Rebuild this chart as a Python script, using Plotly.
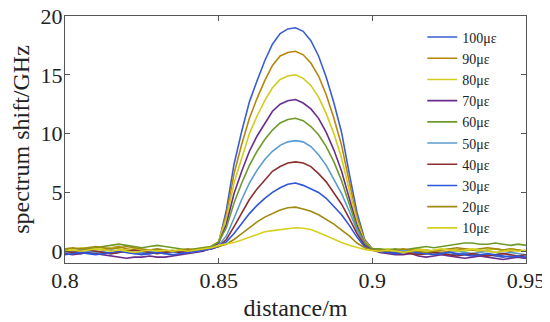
import plotly.graph_objects as go

distance = [0.8000, 0.8025, 0.8050, 0.8075, 0.8100, 0.8125, 0.8150, 0.8175, 0.8200, 0.8225,
            0.8250, 0.8275, 0.8300, 0.8325, 0.8350, 0.8375, 0.8400, 0.8425, 0.8450, 0.8475,
            0.8500, 0.8525, 0.8550, 0.8575, 0.8600, 0.8625, 0.8650, 0.8675, 0.8700, 0.8725,
            0.8750, 0.8775, 0.8800, 0.8825, 0.8850, 0.8875, 0.8900, 0.8925, 0.8950, 0.8975,
            0.9000, 0.9025, 0.9050, 0.9075, 0.9100, 0.9125, 0.9150, 0.9175, 0.9200, 0.9225,
            0.9250, 0.9275, 0.9300, 0.9325, 0.9350, 0.9375, 0.9400, 0.9425, 0.9450, 0.9475,
            0.9500]

s100 = [0.0, -0.1, -0.2, -0.1, 0.0, -0.1, -0.2, -0.1, 0.0, -0.1, -0.2, -0.2, -0.1, -0.1, 0.0, -0.1, 0.0, 0.0, 0.1,
        0.3, 0.7, 3.5, 7.4, 10.2, 12.7, 14.5, 16.2, 17.6, 18.5, 18.9, 19.0, 18.7, 17.9, 16.6, 14.8, 12.6, 10.1, 6.6, 3.3, 1.0, 0.2,
        0.0, -0.1, -0.1, 0.0, -0.1, -0.2, -0.2, -0.1, -0.2, -0.3, -0.3, -0.2, -0.3, -0.4, -0.3, -0.4, -0.5, -0.4, -0.5, -0.6]
s90 = [0.1, 0.2, 0.2, 0.1, 0.2, 0.1, 0.3, 0.4, 0.2, 0.1, 0.0, 0.1, 0.0, -0.1, 0.0, 0.1, 0.0, 0.1, 0.2,
       0.4, 0.8, 3.1, 6.6, 9.1, 11.3, 13.0, 14.5, 15.8, 16.6, 16.9, 17.0, 16.7, 16.0, 14.9, 13.3, 11.3, 9.0, 5.9, 2.9, 0.9, 0.2,
       0.1, 0.0, 0.1, 0.0, -0.1, 0.0, 0.1, 0.0, -0.1, 0.0, 0.1, 0.2, 0.1, 0.0, 0.1, 0.2, 0.1, 0.0, 0.1, 0.0]
s80 = [0.2, 0.1, 0.3, 0.2, 0.1, 0.2, 0.3, 0.2, 0.1, 0.2, 0.1, 0.0, 0.1, 0.0, 0.1, 0.0, 0.1, 0.2, 0.3,
       0.4, 0.8, 2.8, 5.8, 8.0, 10.0, 11.5, 12.8, 13.9, 14.6, 14.9, 15.0, 14.7, 14.1, 13.1, 11.7, 10.0, 7.9, 5.2, 2.6, 0.8, 0.2,
       0.1, 0.2, 0.1, 0.0, 0.1, 0.2, 0.1, 0.0, 0.1, 0.2, 0.1, 0.0, 0.1, 0.0, 0.1, 0.2, 0.1, 0.2, 0.1, 0.0]
s70 = [-0.2, -0.3, -0.2, -0.1, -0.2, -0.3, -0.4, -0.5, -0.6, -0.5, -0.5, -0.4, -0.5, -0.5, -0.4, -0.3, -0.2, -0.1, 0.0,
       0.3, 0.7, 2.3, 4.9, 6.8, 8.5, 9.8, 10.9, 11.9, 12.5, 12.8, 12.9, 12.6, 12.1, 11.3, 10.1, 8.6, 6.8, 4.5, 2.2, 0.7, 0.1,
       -0.1, -0.2, -0.3, -0.3, -0.2, -0.4, -0.5, -0.4, -0.3, -0.4, -0.5, -0.6, -0.5, -0.4, -0.5, -0.6, -0.7, -0.6, -0.5, -0.6]
s60 = [0.1, 0.0, 0.1, 0.2, 0.3, 0.4, 0.5, 0.6, 0.5, 0.4, 0.3, 0.4, 0.5, 0.4, 0.3, 0.2, 0.1, 0.2, 0.3,
       0.4, 0.8, 2.0, 4.1, 5.8, 7.3, 8.5, 9.5, 10.3, 10.9, 11.2, 11.3, 11.1, 10.6, 9.9, 8.9, 7.6, 6.0, 4.0, 2.0, 0.7, 0.2,
       0.2, 0.1, 0.2, 0.1, 0.2, 0.3, 0.4, 0.3, 0.4, 0.5, 0.6, 0.7, 0.7, 0.6, 0.6, 0.7, 0.6, 0.5, 0.6, 0.5]
s50 = [-0.1, 0.0, 0.1, 0.0, -0.1, 0.0, 0.1, 0.0, -0.1, -0.2, -0.1, 0.0, -0.1, -0.2, -0.1, 0.0, -0.1, 0.0, 0.1,
       0.2, 0.5, 1.3, 2.8, 4.4, 5.8, 6.9, 7.8, 8.5, 9.0, 9.3, 9.4, 9.3, 8.9, 8.2, 7.3, 6.1, 4.9, 3.4, 1.8, 0.5, 0.1,
       0.0, -0.1, 0.0, 0.1, 0.0, -0.1, 0.0, -0.1, -0.2, -0.1, 0.0, -0.1, -0.2, -0.1, 0.0, -0.1, -0.2, -0.1, -0.2, -0.3]
s40 = [0.0, -0.1, 0.0, 0.1, 0.0, -0.1, -0.2, -0.1, 0.0, 0.1, 0.0, -0.1, -0.2, -0.1, 0.0, -0.1, 0.0, 0.1, 0.1,
       0.2, 0.4, 1.0, 2.1, 3.3, 4.4, 5.3, 6.1, 6.8, 7.2, 7.5, 7.6, 7.5, 7.2, 6.6, 5.9, 5.0, 4.0, 2.8, 1.5, 0.5, 0.1,
       0.0, -0.1, -0.2, -0.1, -0.2, -0.3, -0.2, -0.1, -0.2, -0.3, -0.4, -0.3, -0.2, -0.3, -0.4, -0.3, -0.2, -0.3, -0.4, -0.3]
s30 = [-0.3, -0.2, -0.1, -0.2, -0.3, -0.2, -0.1, 0.0, -0.1, -0.2, -0.3, -0.2, -0.1, -0.2, -0.3, -0.2, -0.1, 0.0, 0.1,
       0.2, 0.4, 0.8, 1.5, 2.4, 3.2, 3.9, 4.5, 5.0, 5.4, 5.7, 5.8, 5.6, 5.3, 5.0, 4.5, 3.8, 3.1, 2.2, 1.2, 0.4, 0.1,
       0.0, -0.1, -0.2, -0.1, 0.0, -0.1, -0.2, -0.3, -0.2, -0.1, -0.2, -0.3, -0.4, -0.3, -0.2, -0.3, -0.4, -0.5, -0.4, -0.5]
s20 = [0.2, 0.3, 0.2, 0.3, 0.4, 0.3, 0.2, 0.3, 0.4, 0.3, 0.2, 0.1, 0.2, 0.1, 0.0, 0.1, 0.2, 0.1, 0.2,
       0.3, 0.4, 0.6, 1.0, 1.5, 2.0, 2.5, 2.9, 3.2, 3.5, 3.7, 3.75, 3.6, 3.4, 3.1, 2.7, 2.3, 1.8, 1.3, 0.7, 0.3, 0.1,
       0.1, 0.0, 0.1, 0.2, 0.1, 0.0, -0.1, 0.0, 0.1, 0.2, 0.3, 0.2, 0.1, 0.2, 0.3, 0.2, 0.1, 0.2, 0.1, 0.0]
s10 = [0.0, 0.1, 0.0, 0.1, 0.2, 0.1, 0.0, 0.1, 0.0, -0.1, 0.0, 0.1, 0.0, 0.1, 0.0, 0.1, 0.0, 0.1, 0.2,
       0.3, 0.5, 0.6, 0.75, 0.95, 1.2, 1.45, 1.65, 1.75, 1.85, 1.95, 2.0, 1.95, 1.85, 1.6, 1.3, 1.0, 0.75, 0.5, 0.3, 0.15, 0.05,
       0.0, 0.1, 0.0, -0.1, 0.0, 0.1, 0.0, 0.1, 0.2, 0.1, 0.0, 0.1, 0.2, 0.1, 0.0, -0.1, 0.0, 0.1, 0.0, 0.1]

labels = ["100με", "90με", "80με", "70με", "60με", "50με", "40με", "30με", "20με", "10με"]
series = [s100, s90, s80, s70, s60, s50, s40, s30, s20, s10]
colors = ["#3a5fd0", "#b8860b", "#d2cc22", "#6a2d8c", "#6f9a2a",
          "#5a9bd0", "#8b3030", "#2f55d8", "#a08a10", "#d6d020"]

fig = go.Figure()
for name, ys, c in zip(labels, series, colors):
    fig.add_trace(go.Scatter(x=distance, y=ys, mode="lines", name=name,
                             line=dict(color=c, width=1.6)))

font_family = "Liberation Serif"
axis_common = dict(
    showgrid=False, zeroline=False, showline=True, linecolor="#555555", linewidth=1,
    mirror="ticks", ticks="inside", ticklen=5, tickcolor="#555555", automargin=False,
    ticklabeloverflow="allow",
    tickfont=dict(family=font_family, size=22, color="#222222"),
)
fig.update_xaxes(range=[0.8, 0.95], tickvals=[0.8, 0.85, 0.9, 0.95],
                 ticktext=["0.8", "0.85", "0.9", "0.95"],
                 ticklabelstandoff=-2,
                 title=dict(text="distance/m", font=dict(family=font_family, size=24, color="#222222"),
                            standoff=6),
                 **axis_common)
fig.update_yaxes(range=[-1, 20], tickvals=[0, 5, 10, 15, 20],
                 ticklabelstandoff=-3,
                 title=dict(text="spectrum shift/GHz", font=dict(family=font_family, size=24, color="#222222"),
                            standoff=8),
                 **axis_common)

# page body has an 8px default margin, so the figure is 8px smaller than the window
fig.update_layout(
    width=542, height=314,
    margin=dict(l=57, r=24, t=8, b=59, autoexpand=False),
    paper_bgcolor="white", plot_bgcolor="white",
    font=dict(family=font_family),
    showlegend=True,
    legend=dict(x=0.775, y=0.978, xanchor="left", yanchor="top",
                bgcolor="rgba(0,0,0,0)", borderwidth=0,
                font=dict(family=font_family, size=14, color="#222222"),
                itemwidth=30, maxheight=1.0),
)

fig.write_html("out.html")
